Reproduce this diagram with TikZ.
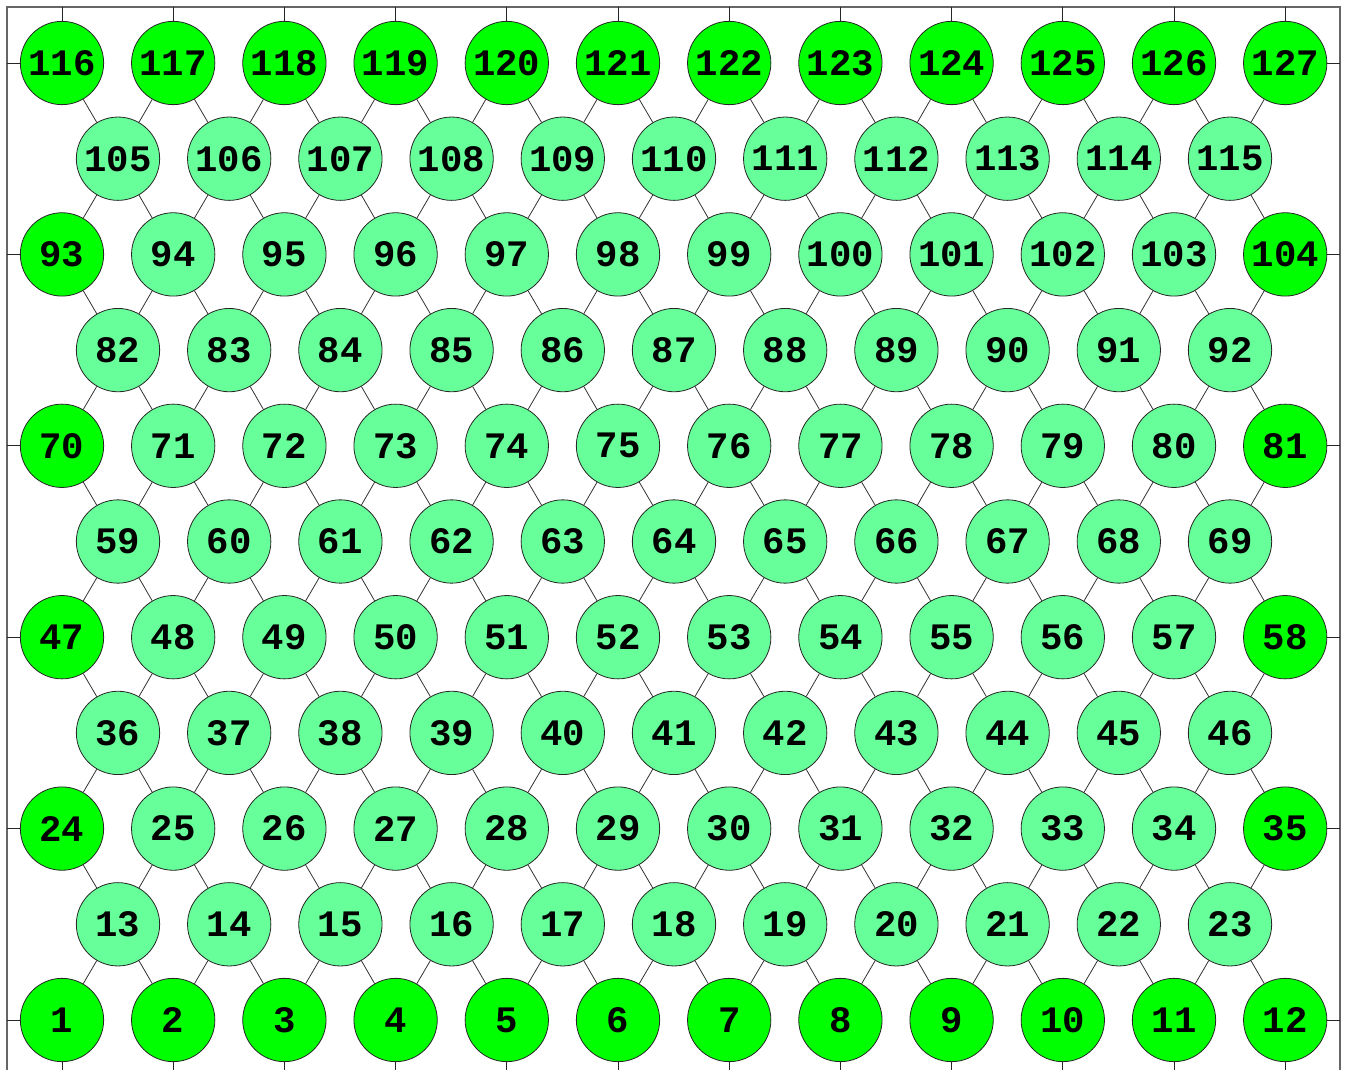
\documentclass[tikz,border=0pt]{standalone}
\usepackage{fontspec}
\setmonofont{Liberation Mono}
\definecolor{outergreen}{HTML}{00FF00}
\definecolor{innergreen}{HTML}{66FF99}
\begin{document}
\begin{tikzpicture}[x=0.75pt,y=-0.75pt,
  vtx/.style={circle, draw=black!85, line width=0.6pt, minimum size=62.5pt, inner sep=0pt,
    font=\ttfamily\bfseries\fontsize{28}{28}\selectfont},
  edge/.style={draw=black!80, line width=0.6pt},
  frame/.style={draw=black!60, line width=1.1pt},
  tickmark/.style={draw=black!85, line width=0.6pt}]
\useasboundingbox (0,0) rectangle (1347,1070);
\clip (0,0) rectangle (1347,1070);
% frame and tick marks
\draw[frame] (7,1085) -- (7,7) -- (1340,7) -- (1340,1085);
\foreach \i in {0,...,11} {
  \pgfmathsetmacro\xx{62+111.2*\i}
  \draw[tickmark] (\xx,7) -- (\xx,25);
  \draw[tickmark] (\xx,1085) -- (\xx,1055);
}
\foreach \r in {0,...,5} {
  \pgfmathsetmacro\yy{1020-191.4*\r}
  \draw[tickmark] (7,\yy) -- (25,\yy);
  \draw[tickmark] (1340,\yy) -- (1322,\yy);
}
% even rows: 12 nodes
\foreach \r in {0,...,5} {
  \foreach \i in {0,...,11} {
    \pgfmathtruncatemacro\n{23*\r+\i+1}
    \pgfmathtruncatemacro\b{(\r==0)||(\r==5)||(\i==0)||(\i==11)}
    \ifnum\b=1 \def\col{outergreen}\else\def\col{innergreen}\fi
    \node[vtx, fill=\col] (n\n) at ({62+111.2*\i},{1020-191.4*\r}) {\n};
  }
}
% odd rows: 11 nodes
\foreach \r in {0,...,4} {
  \foreach \j in {0,...,10} {
    \pgfmathtruncatemacro\n{23*\r+13+\j}
    \node[vtx, fill=innergreen] (n\n) at ({118+111.2*\j},{1020-95.7-191.4*\r}) {\n};
  }
}
% edges
\foreach \r in {0,...,4} {
  \foreach \j in {0,...,10} {
    \pgfmathtruncatemacro\n{23*\r+13+\j}
    \pgfmathtruncatemacro\a{23*\r+\j+1}
    \pgfmathtruncatemacro\bb{23*\r+\j+2}
    \pgfmathtruncatemacro\c{23*(\r+1)+\j+1}
    \pgfmathtruncatemacro\d{23*(\r+1)+\j+2}
    \draw[edge] (n\n) -- (n\a);
    \draw[edge] (n\n) -- (n\bb);
    \draw[edge] (n\n) -- (n\c);
    \draw[edge] (n\n) -- (n\d);
  }
}
\end{tikzpicture}
\end{document}
